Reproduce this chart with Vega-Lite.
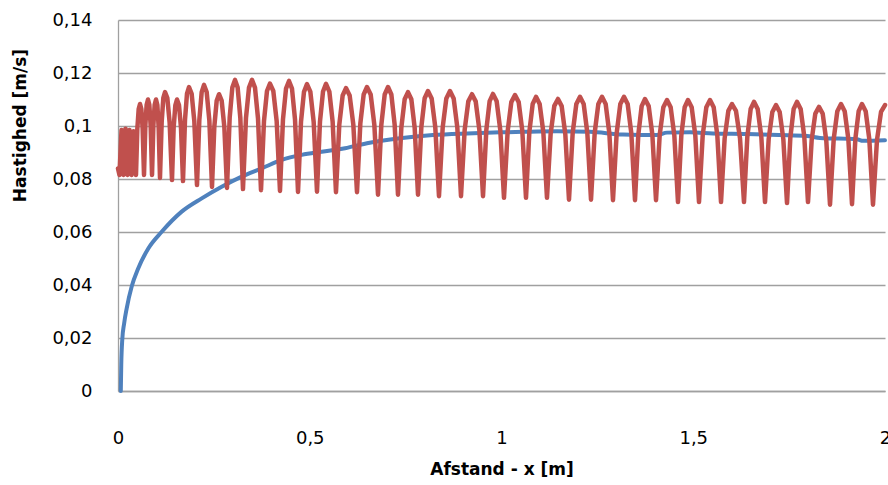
{
  "$schema": "https://vega.github.io/schema/vega-lite/v6.json",
  "width": 767,
  "height": 371,
  "autosize": {"type": "none"},
  "padding": {"left": 118, "top": 20, "right": 3, "bottom": 94},
  "background": "#ffffff",
  "config": {
    "view": {"stroke": null},
    "font": "DejaVu Sans",
    "axis": {
      "labelFont": "DejaVu Sans",
      "titleFont": "DejaVu Sans",
      "labelColor": "#000000",
      "titleColor": "#000000",
      "domainColor": "#A0A0A0",
      "domainWidth": 1.3,
      "gridColor": "#A0A0A0",
      "gridWidth": 1.3,
      "ticks": false,
      "tickSize": 0,
      "labelFlush": false,
      "labelOverlap": false,
      "labelBound": false
    }
  },
  "datasets": {
    "blue": [
      {"x": 0.0073, "v": 0},
      {"x": 0.0085, "v": 0.0100},
      {"x": 0.0112, "v": 0.0195},
      {"x": 0.0160, "v": 0.0255},
      {"x": 0.0227, "v": 0.0312},
      {"x": 0.0357, "v": 0.0394},
      {"x": 0.0529, "v": 0.0463},
      {"x": 0.0790, "v": 0.0538},
      {"x": 0.1140, "v": 0.0601},
      {"x": 0.1661, "v": 0.0677},
      {"x": 0.2183, "v": 0.0727},
      {"x": 0.2704, "v": 0.0771},
      {"x": 0.3226, "v": 0.0809},
      {"x": 0.3747, "v": 0.0840},
      {"x": 0.4269, "v": 0.0872},
      {"x": 0.4790, "v": 0.0891},
      {"x": 0.5312, "v": 0.0903},
      {"x": 0.5919, "v": 0.0916},
      {"x": 0.6493, "v": 0.0935},
      {"x": 0.7353, "v": 0.0954},
      {"x": 0.8214, "v": 0.0966},
      {"x": 0.9100, "v": 0.0972},
      {"x": 0.9961, "v": 0.0976},
      {"x": 1.0561, "v": 0.0978},
      {"x": 1.1447, "v": 0.0980},
      {"x": 1.2308, "v": 0.0978},
      {"x": 1.3168, "v": 0.0968},
      {"x": 1.4055, "v": 0.0966},
      {"x": 1.4316, "v": 0.0975},
      {"x": 1.4915, "v": 0.0976},
      {"x": 1.5515, "v": 0.0972},
      {"x": 1.6402, "v": 0.0970},
      {"x": 1.7262, "v": 0.0966},
      {"x": 1.7966, "v": 0.0962},
      {"x": 1.8305, "v": 0.0955},
      {"x": 1.9270, "v": 0.0950},
      {"x": 1.9426, "v": 0.0944},
      {"x": 2.0000, "v": 0.0946}
    ],
    "red": [
      {"x": 0.0000, "v": 0.0840},
      {"x": 0.0039, "v": 0.0815},
      {"x": 0.0091, "v": 0.0985},
      {"x": 0.0143, "v": 0.0815},
      {"x": 0.0196, "v": 0.0990},
      {"x": 0.0248, "v": 0.0815},
      {"x": 0.0300, "v": 0.0985},
      {"x": 0.0352, "v": 0.0815},
      {"x": 0.0404, "v": 0.0980},
      {"x": 0.0469, "v": 0.0815},
      {"x": 0.0504, "v": 0.0989},
      {"x": 0.0539, "v": 0.1064},
      {"x": 0.0574, "v": 0.1083},
      {"x": 0.0609, "v": 0.1064},
      {"x": 0.0643, "v": 0.0989},
      {"x": 0.0678, "v": 0.0815},
      {"x": 0.0713, "v": 0.1001},
      {"x": 0.0747, "v": 0.1080},
      {"x": 0.0782, "v": 0.1100},
      {"x": 0.0817, "v": 0.1080},
      {"x": 0.0852, "v": 0.1001},
      {"x": 0.0887, "v": 0.0815},
      {"x": 0.0922, "v": 0.1001},
      {"x": 0.0956, "v": 0.1080},
      {"x": 0.0991, "v": 0.1100},
      {"x": 0.1026, "v": 0.1079},
      {"x": 0.1060, "v": 0.0996},
      {"x": 0.1095, "v": 0.0804},
      {"x": 0.1139, "v": 0.1015},
      {"x": 0.1182, "v": 0.1106},
      {"x": 0.1226, "v": 0.1128},
      {"x": 0.1287, "v": 0.1105},
      {"x": 0.1347, "v": 0.1012},
      {"x": 0.1408, "v": 0.0796},
      {"x": 0.1451, "v": 0.0994},
      {"x": 0.1495, "v": 0.1078},
      {"x": 0.1538, "v": 0.1100},
      {"x": 0.1590, "v": 0.1079},
      {"x": 0.1643, "v": 0.0992},
      {"x": 0.1695, "v": 0.0792},
      {"x": 0.1747, "v": 0.1023},
      {"x": 0.1799, "v": 0.1122},
      {"x": 0.1851, "v": 0.1147},
      {"x": 0.1921, "v": 0.1121},
      {"x": 0.1990, "v": 0.1018},
      {"x": 0.2060, "v": 0.0777},
      {"x": 0.2121, "v": 0.1023},
      {"x": 0.2182, "v": 0.1128},
      {"x": 0.2243, "v": 0.1155},
      {"x": 0.2312, "v": 0.1128},
      {"x": 0.2382, "v": 0.1021},
      {"x": 0.2451, "v": 0.0770},
      {"x": 0.2512, "v": 0.0998},
      {"x": 0.2573, "v": 0.1095},
      {"x": 0.2634, "v": 0.1120},
      {"x": 0.2703, "v": 0.1096},
      {"x": 0.2773, "v": 0.0996},
      {"x": 0.2842, "v": 0.0766},
      {"x": 0.2912, "v": 0.1031},
      {"x": 0.2981, "v": 0.1145},
      {"x": 0.3051, "v": 0.1174},
      {"x": 0.3120, "v": 0.1145},
      {"x": 0.3190, "v": 0.1030},
      {"x": 0.3259, "v": 0.0762},
      {"x": 0.3337, "v": 0.1030},
      {"x": 0.3416, "v": 0.1145},
      {"x": 0.3494, "v": 0.1174},
      {"x": 0.3572, "v": 0.1145},
      {"x": 0.3651, "v": 0.1028},
      {"x": 0.3729, "v": 0.0758},
      {"x": 0.3807, "v": 0.1019},
      {"x": 0.3885, "v": 0.1132},
      {"x": 0.3963, "v": 0.1160},
      {"x": 0.4050, "v": 0.1132},
      {"x": 0.4137, "v": 0.1019},
      {"x": 0.4224, "v": 0.0755},
      {"x": 0.4302, "v": 0.1025},
      {"x": 0.4381, "v": 0.1141},
      {"x": 0.4459, "v": 0.1170},
      {"x": 0.4537, "v": 0.1141},
      {"x": 0.4616, "v": 0.1024},
      {"x": 0.4694, "v": 0.0751},
      {"x": 0.4772, "v": 0.1016},
      {"x": 0.4850, "v": 0.1129},
      {"x": 0.4928, "v": 0.1158},
      {"x": 0.5015, "v": 0.1130},
      {"x": 0.5102, "v": 0.1016},
      {"x": 0.5189, "v": 0.0752},
      {"x": 0.5267, "v": 0.1017},
      {"x": 0.5346, "v": 0.1130},
      {"x": 0.5424, "v": 0.1159},
      {"x": 0.5511, "v": 0.1130},
      {"x": 0.5597, "v": 0.1016},
      {"x": 0.5684, "v": 0.0750},
      {"x": 0.5771, "v": 0.1006},
      {"x": 0.5858, "v": 0.1115},
      {"x": 0.5945, "v": 0.1143},
      {"x": 0.6041, "v": 0.1115},
      {"x": 0.6136, "v": 0.1006},
      {"x": 0.6232, "v": 0.0750},
      {"x": 0.6319, "v": 0.1009},
      {"x": 0.6406, "v": 0.1119},
      {"x": 0.6493, "v": 0.1147},
      {"x": 0.6589, "v": 0.1119},
      {"x": 0.6684, "v": 0.1005},
      {"x": 0.6780, "v": 0.0741},
      {"x": 0.6867, "v": 0.1005},
      {"x": 0.6954, "v": 0.1119},
      {"x": 0.7041, "v": 0.1147},
      {"x": 0.7128, "v": 0.1119},
      {"x": 0.7214, "v": 0.1005},
      {"x": 0.7301, "v": 0.0741},
      {"x": 0.7388, "v": 0.0993},
      {"x": 0.7475, "v": 0.1101},
      {"x": 0.7562, "v": 0.1128},
      {"x": 0.7649, "v": 0.1101},
      {"x": 0.7736, "v": 0.0993},
      {"x": 0.7823, "v": 0.0741},
      {"x": 0.7910, "v": 0.0996},
      {"x": 0.7996, "v": 0.1105},
      {"x": 0.8083, "v": 0.1132},
      {"x": 0.8179, "v": 0.1104},
      {"x": 0.8274, "v": 0.0994},
      {"x": 0.8370, "v": 0.0735},
      {"x": 0.8466, "v": 0.0994},
      {"x": 0.8561, "v": 0.1104},
      {"x": 0.8657, "v": 0.1132},
      {"x": 0.8753, "v": 0.1104},
      {"x": 0.8848, "v": 0.0994},
      {"x": 0.8944, "v": 0.0735},
      {"x": 0.9040, "v": 0.0986},
      {"x": 0.9135, "v": 0.1093},
      {"x": 0.9231, "v": 0.1120},
      {"x": 0.9327, "v": 0.1093},
      {"x": 0.9422, "v": 0.0986},
      {"x": 0.9518, "v": 0.0735},
      {"x": 0.9605, "v": 0.0986},
      {"x": 0.9691, "v": 0.1094},
      {"x": 0.9778, "v": 0.1121},
      {"x": 0.9874, "v": 0.1093},
      {"x": 0.9969, "v": 0.0984},
      {"x": 1.0065, "v": 0.0729},
      {"x": 1.0161, "v": 0.0981},
      {"x": 1.0256, "v": 0.1090},
      {"x": 1.0352, "v": 0.1117},
      {"x": 1.0448, "v": 0.1090},
      {"x": 1.0543, "v": 0.0981},
      {"x": 1.0639, "v": 0.0729},
      {"x": 1.0726, "v": 0.0977},
      {"x": 1.0813, "v": 0.1083},
      {"x": 1.0900, "v": 0.1110},
      {"x": 1.0995, "v": 0.1083},
      {"x": 1.1091, "v": 0.0977},
      {"x": 1.1186, "v": 0.0729},
      {"x": 1.1282, "v": 0.0972},
      {"x": 1.1377, "v": 0.1076},
      {"x": 1.1473, "v": 0.1102},
      {"x": 1.1569, "v": 0.1075},
      {"x": 1.1664, "v": 0.0969},
      {"x": 1.1760, "v": 0.0722},
      {"x": 1.1856, "v": 0.0974},
      {"x": 1.1951, "v": 0.1083},
      {"x": 1.2047, "v": 0.1110},
      {"x": 1.2143, "v": 0.1083},
      {"x": 1.2238, "v": 0.0974},
      {"x": 1.2334, "v": 0.0722},
      {"x": 1.2430, "v": 0.0974},
      {"x": 1.2525, "v": 0.1083},
      {"x": 1.2621, "v": 0.1110},
      {"x": 1.2716, "v": 0.1083},
      {"x": 1.2812, "v": 0.0973},
      {"x": 1.2907, "v": 0.0720},
      {"x": 1.3003, "v": 0.0973},
      {"x": 1.3098, "v": 0.1083},
      {"x": 1.3194, "v": 0.1110},
      {"x": 1.3290, "v": 0.1083},
      {"x": 1.3385, "v": 0.0973},
      {"x": 1.3481, "v": 0.0720},
      {"x": 1.3568, "v": 0.0968},
      {"x": 1.3655, "v": 0.1075},
      {"x": 1.3742, "v": 0.1102},
      {"x": 1.3838, "v": 0.1075},
      {"x": 1.3933, "v": 0.0968},
      {"x": 1.4029, "v": 0.0720},
      {"x": 1.4125, "v": 0.0966},
      {"x": 1.4220, "v": 0.1071},
      {"x": 1.4316, "v": 0.1098},
      {"x": 1.4411, "v": 0.1071},
      {"x": 1.4507, "v": 0.0964},
      {"x": 1.4602, "v": 0.0713},
      {"x": 1.4689, "v": 0.0964},
      {"x": 1.4776, "v": 0.1071},
      {"x": 1.4863, "v": 0.1098},
      {"x": 1.4959, "v": 0.1071},
      {"x": 1.5054, "v": 0.0964},
      {"x": 1.5150, "v": 0.0713},
      {"x": 1.5246, "v": 0.0964},
      {"x": 1.5341, "v": 0.1071},
      {"x": 1.5437, "v": 0.1098},
      {"x": 1.5533, "v": 0.1071},
      {"x": 1.5628, "v": 0.0964},
      {"x": 1.5724, "v": 0.0713},
      {"x": 1.5819, "v": 0.0954},
      {"x": 1.5915, "v": 0.1057},
      {"x": 1.6010, "v": 0.1083},
      {"x": 1.6114, "v": 0.1057},
      {"x": 1.6219, "v": 0.0954},
      {"x": 1.6323, "v": 0.0713},
      {"x": 1.6410, "v": 0.0959},
      {"x": 1.6497, "v": 0.1064},
      {"x": 1.6584, "v": 0.1091},
      {"x": 1.6680, "v": 0.1064},
      {"x": 1.6775, "v": 0.0959},
      {"x": 1.6871, "v": 0.0713},
      {"x": 1.6967, "v": 0.0951},
      {"x": 1.7062, "v": 0.1053},
      {"x": 1.7158, "v": 0.1079},
      {"x": 1.7254, "v": 0.1053},
      {"x": 1.7349, "v": 0.0950},
      {"x": 1.7445, "v": 0.0709},
      {"x": 1.7532, "v": 0.0957},
      {"x": 1.7618, "v": 0.1064},
      {"x": 1.7705, "v": 0.1091},
      {"x": 1.7801, "v": 0.1064},
      {"x": 1.7896, "v": 0.0959},
      {"x": 1.7992, "v": 0.0713},
      {"x": 1.8088, "v": 0.0947},
      {"x": 1.8183, "v": 0.1047},
      {"x": 1.8279, "v": 0.1072},
      {"x": 1.8375, "v": 0.1047},
      {"x": 1.8470, "v": 0.0943},
      {"x": 1.8566, "v": 0.0703},
      {"x": 1.8662, "v": 0.0950},
      {"x": 1.8757, "v": 0.1056},
      {"x": 1.8853, "v": 0.1083},
      {"x": 1.8949, "v": 0.1056},
      {"x": 1.9044, "v": 0.0951},
      {"x": 1.9140, "v": 0.0705},
      {"x": 1.9227, "v": 0.0951},
      {"x": 1.9313, "v": 0.1056},
      {"x": 1.9400, "v": 0.1083},
      {"x": 1.9496, "v": 0.1056},
      {"x": 1.9591, "v": 0.0950},
      {"x": 1.9687, "v": 0.0703},
      {"x": 1.9791, "v": 0.0947},
      {"x": 1.9896, "v": 0.1053},
      {"x": 2.0000, "v": 0.1079}
    ]
  },
  "layer": [
    {
      "data": {"name": "blue"},
      "mark": {"type": "line", "color": "#4F81BD", "strokeWidth": 4, "interpolate": "monotone", "strokeCap": "round", "strokeJoin": "round"},
      "encoding": {
        "x": {
          "field": "x",
          "type": "quantitative",
          "scale": {"domain": [0, 2], "nice": false, "zero": false},
          "axis": {
            "title": "Afstand - x [m]",
            "values": [0, 0.5, 1, 1.5, 2],
            "labelExpr": "replace(toString(datum.value), '.', ',')",
            "grid": false,
            "labelFontSize": 18,
            "labelPadding": 38,
            "titleFontSize": 17,
            "titleFontWeight": "bold",
            "titleBaseline": "alphabetic",
            "titleY": 83
          }
        },
        "y": {
          "field": "v",
          "type": "quantitative",
          "scale": {"domain": [0, 0.14], "nice": false},
          "axis": {
            "title": "Hastighed [m/s]",
            "values": [0, 0.02, 0.04, 0.06, 0.08, 0.1, 0.12, 0.14],
            "labelExpr": "replace(toString(datum.value), '.', ',')",
            "grid": true,
            "labelFontSize": 18,
            "labelPadding": 26,
            "labelBaseline": "middle",
            "titleFontSize": 17,
            "titleFontWeight": "bold",
            "titleAngle": -90,
            "titleAlign": "center",
            "titleBaseline": "middle",
            "titleX": -98,
            "titleY": 105
          }
        }
      }
    },
    {
      "data": {"name": "red"},
      "mark": {"type": "line", "color": "#C0504D", "strokeWidth": 4.5, "strokeCap": "round", "strokeJoin": "round"},
      "encoding": {
        "x": {"field": "x", "type": "quantitative"},
        "y": {"field": "v", "type": "quantitative"}
      }
    }
  ]
}
